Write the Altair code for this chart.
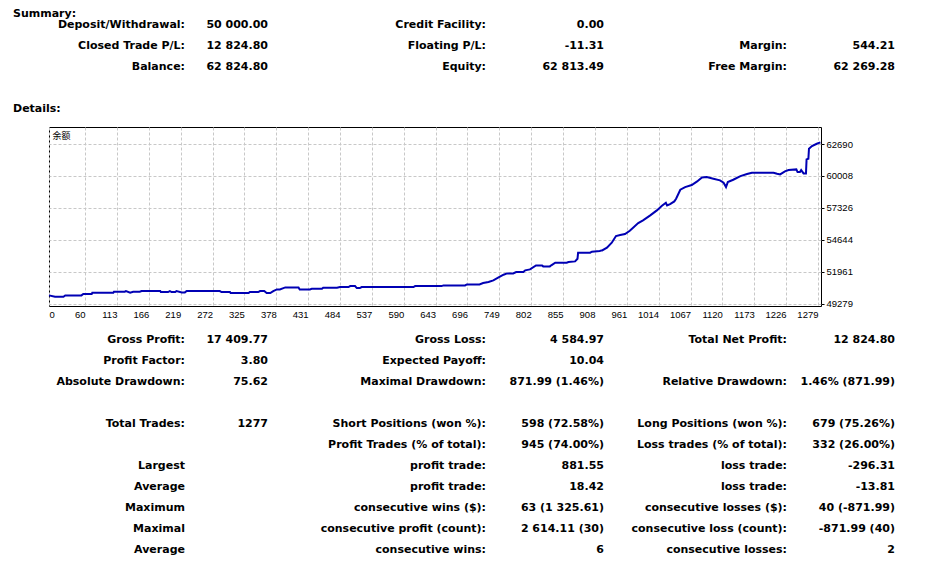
import altair as alt
import pandas as pd

# ---------------- balance curve (trade index, balance) ----------------
trade = [0, 10, 24, 27, 54, 57, 71, 72, 107, 108, 126, 128, 135, 140, 151, 154, 185, 186, 198,
         201, 204, 210, 212, 221, 226, 229, 284, 287, 301, 302, 332, 334, 348, 351, 358, 362,
         368, 373, 379, 384, 393, 415, 417, 434, 437, 454, 456, 479, 484, 498, 501, 509, 512,
         517, 520, 606, 609, 653, 656, 692, 695, 716, 722, 731, 739, 747, 756, 762, 772, 777,
         789, 792, 800, 810, 820, 822, 833, 836, 842, 861, 864, 875, 879, 880, 900, 903, 916,
         919, 920, 928, 936, 943, 950, 958, 966, 980, 988, 1000, 1011, 1019, 1026, 1028, 1033,
         1040, 1043, 1050, 1058, 1069, 1078, 1086, 1094, 1105, 1116, 1122, 1126, 1129, 1138,
         1150, 1161, 1169, 1205, 1211, 1216, 1224, 1230, 1243, 1245, 1249, 1251, 1255, 1259,
         1260, 1263, 1264, 1269, 1277, 1283]
balance = [50000, 49888, 49888, 50000, 50000, 50112, 50112, 50224, 50224, 50307, 50307, 50363,
           50224, 50307, 50307, 50363, 50363, 50279, 50279, 50363, 50279, 50279, 50363, 50251,
           50251, 50363, 50363, 50279, 50279, 50196, 50196, 50279, 50279, 50363, 50363, 50196,
           50196, 50363, 50503, 50503, 50671, 50671, 50503, 50503, 50559, 50559, 50643, 50643,
           50699, 50699, 50782, 50782, 50615, 50615, 50699, 50699, 50782, 50782, 50838, 50838,
           50922, 50922, 51034, 51118, 51257, 51481, 51732, 51844, 51844, 51956, 51956, 52096,
           52179, 52515, 52515, 52431, 52431, 52543, 52738, 52738, 52794, 52850, 53073, 53576,
           53576, 53660, 53716, 53772, 53772, 53995, 54415, 54973, 55057, 55141, 55420, 56063,
           56287, 56706, 57125, 57488, 57767, 57544, 57656, 57879, 58103, 58857, 59081, 59248,
           59555, 59891, 59919, 59779, 59639, 59444, 59081, 59500, 59695, 60003, 60170, 60282,
           60282, 60198, 60142, 60394, 60505, 60561, 60338, 60338, 60505, 60226, 60226, 61400,
           61456, 62294, 62517, 62713, 62824.80]

x_ticks = [0, 60, 113, 166, 219, 272, 325, 378, 431, 484, 537, 590, 643, 696, 749, 802, 855,
           908, 961, 1014, 1067, 1120, 1173, 1226, 1279]
y_ticks = [49279, 51961, 54644, 57326, 60008, 62690]
chart_label = "余额"

# ---------------- report text ----------------
header_texts = ["Summary:", "Details:"]
header_rows = [0.445, 5]

table_rows = [1, 2, 3, 16, 17, 18, 20, 21, 22, 23, 24, 25, 26]
col1_labels = ["Deposit/Withdrawal:", "Closed Trade P/L:", "Balance:", "Gross Profit:",
               "Profit Factor:", "Absolute Drawdown:", "Total Trades:", "", "Largest",
               "Average", "Maximum", "Maximal", "Average"]
col1_values = ["50 000.00", "12 824.80", "62 824.80", "17 409.77", "3.80", "75.62", "1277",
               "", "", "", "", "", ""]
col2_labels = ["Credit Facility:", "Floating P/L:", "Equity:", "Gross Loss:", "Expected Payoff:",
               "Maximal Drawdown:", "Short Positions (won %):", "Profit Trades (% of total):",
               "profit trade:", "profit trade:", "consecutive wins ($):",
               "consecutive profit (count):", "consecutive wins:"]
col2_values = ["0.00", "-11.31", "62 813.49", "4 584.97", "10.04", "871.99 (1.46%)",
               "598 (72.58%)", "945 (74.00%)", "881.55", "18.42", "63 (1 325.61)",
               "2 614.11 (30)", "6"]
col3_labels = ["", "Margin:", "Free Margin:", "Total Net Profit:", "", "Relative Drawdown:",
               "Long Positions (won %):", "Loss trades (% of total):", "loss trade:",
               "loss trade:", "consecutive losses ($):", "consecutive loss (count):",
               "consecutive losses:"]
col3_values = ["", "544.21", "62 269.28", "12 824.80", "", "1.46% (871.99)", "679 (75.26%)",
               "332 (26.00%)", "-296.31", "-13.81", "40 (-871.99)", "-871.99 (40)", "2"]

# ---------------- build tables ----------------
line_df = pd.DataFrame({"trade": trade, "balance": balance})

columns = [col1_labels, col1_values, col2_labels, col2_values, col3_labels, col3_values]
cells = []
for ci, col in enumerate(columns):
    for r, t in zip(table_rows, col):
        if t:
            cells.append({"row": r, "col": ci, "text": t})
cells_df = pd.DataFrame(cells)
head_df = pd.DataFrame({"row": header_rows, "text": header_texts})
label_df = pd.DataFrame({"text": [chart_label]})

# ---------------- layout (pixels relative to plot origin) ----------------
W, H = 772, 179
col_anchor = [136, 219, 437, 555, 738, 846]
row_scale = alt.Scale(domain=[0, 26], range=[-122.6, 423.4], nice=False, zero=False)
text_font = "DejaVu Sans"

line = alt.Chart(line_df).mark_line(color="#0000b4", strokeWidth=2, interpolate="linear").encode(
    x=alt.X("trade:Q",
            scale=alt.Scale(domain=[0, 1284], nice=False, zero=False),
            axis=alt.Axis(values=x_ticks, title=None, orient="bottom", grid=True,
                          gridColor="#c8c8c8", gridDash=[3, 2], gridWidth=1,
                          ticks=False, domain=False, labelFont="Liberation Sans",
                          labelFontSize=9.5, labelColor="#000000", labelPadding=3,
                          labelFlush=False, labelOverlap=False, format="d",
                          labelAlign={"condition": {"test": "datum.value == 0", "value": "left"},
                                      "value": "right"})),
    y=alt.Y("balance:Q",
            scale=alt.Scale(domain=[49111, 64115], nice=False, zero=False),
            axis=alt.Axis(values=y_ticks, title=None, orient="right", grid=True,
                          gridColor="#c8c8c8", gridDash=[3, 2], gridWidth=1,
                          ticks=True, tickSize=3, tickColor="#000000", domain=False,
                          labelFont="Liberation Sans", labelFontSize=9.5,
                          labelColor="#000000", labelPadding=2, labelAlign="left",
                          labelBaseline="middle", labelOverlap=False, labelFlush=False,
                          format="d")),
)

label = alt.Chart(label_df).mark_text(
    align="left", baseline="middle", font="Noto Sans CJK SC", fontSize=9, color="#000000"
).encode(x=alt.value(3.5), y=alt.value(9), text="text:N")

cells_layer = alt.Chart(cells_df).mark_text(
    align="right", baseline="middle", font=text_font, fontSize=11, fontWeight="bold",
    color="#000000"
).encode(
    x=alt.X("col:Q", scale=alt.Scale(domain=[0, 1, 2, 3, 4, 5], range=col_anchor,
                                     nice=False, zero=False), axis=None),
    y=alt.Y("row:Q", scale=row_scale, axis=None),
    text="text:N",
)

head_layer = alt.Chart(head_df).mark_text(
    align="left", baseline="middle", font=text_font, fontSize=11, fontWeight="bold",
    color="#000000"
).encode(
    x=alt.value(-36),
    y=alt.Y("row:Q", scale=row_scale, axis=None),
    text="text:N",
)

chart = alt.layer(line, label, cells_layer, head_layer).resolve_scale(
    x="independent", y="independent"
).properties(
    width=W, height=H,
    autosize=alt.AutoSizeParams(type="none"),
    padding={"left": 41, "top": 119, "right": 98, "bottom": 252},
    background="#ffffff",
).configure_view(stroke="#000000", strokeWidth=1)

chart.save("out.html", embed_options={"renderer": "svg", "actions": False})
